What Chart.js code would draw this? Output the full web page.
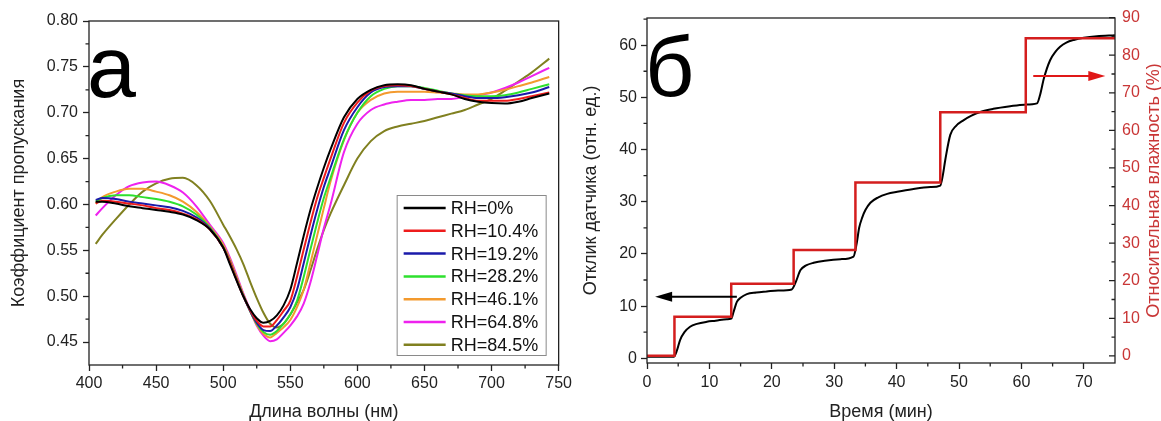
<!DOCTYPE html>
<html>
<head>
<meta charset="utf-8">
<script src="https://cdn.jsdelivr.net/npm/chart.js@4.4.1/dist/chart.umd.min.js"></script>
<style>
  html, body { margin: 0; padding: 0; background: #fff; }
  #wrap { position: relative; width: 1161px; height: 421px; overflow: hidden; }
  #chartA { position: absolute; left: 0; top: 0; }
  #chartB { position: absolute; left: 575px; top: 0; }
</style>
</head>
<body>
<div id="wrap">
  <canvas id="chartA" width="575" height="421"></canvas>
  <canvas id="chartB" width="586" height="421"></canvas>
</div>
<script>
// ---- panel а : transmission spectra at different RH
const wavelengths = [405, 410, 420, 430, 440, 450, 460, 470, 480, 490, 500, 505, 510, 515, 520, 525, 530, 535, 540, 545, 550, 555, 560, 565, 570, 575, 580, 590, 600, 610, 620, 630, 640, 650, 660, 670, 680, 690, 700, 710, 720, 730, 743];
const rhLabels = ['RH=0%', 'RH=10.4%', 'RH=19.2%', 'RH=28.2%', 'RH=46.1%', 'RH=64.8%', 'RH=84.5%'];
const rh0  = [0.603, 0.603, 0.601, 0.598, 0.596, 0.594, 0.592, 0.589, 0.583, 0.573, 0.553, 0.535, 0.517, 0.500, 0.486, 0.476, 0.471, 0.473, 0.479, 0.490, 0.507, 0.536, 0.566, 0.594, 0.618, 0.640, 0.660, 0.695, 0.715, 0.725, 0.730, 0.731, 0.730, 0.726, 0.723, 0.720, 0.715, 0.712, 0.7105, 0.710, 0.712, 0.716, 0.721];
const rh10 = [0.601, 0.604, 0.603, 0.601, 0.599, 0.596, 0.594, 0.590, 0.584, 0.573, 0.553, 0.537, 0.518, 0.500, 0.485, 0.473, 0.467, 0.467, 0.474, 0.484, 0.495, 0.521, 0.551, 0.580, 0.607, 0.629, 0.650, 0.689, 0.711, 0.724, 0.729, 0.730, 0.729, 0.726, 0.723, 0.720, 0.716, 0.713, 0.713, 0.713, 0.715, 0.718, 0.722];
const rh19 = [0.605, 0.607, 0.606, 0.603, 0.601, 0.599, 0.597, 0.593, 0.586, 0.574, 0.553, 0.537, 0.518, 0.500, 0.484, 0.471, 0.463, 0.462, 0.468, 0.477, 0.488, 0.507, 0.536, 0.566, 0.594, 0.619, 0.640, 0.681, 0.706, 0.722, 0.728, 0.729, 0.729, 0.726, 0.723, 0.721, 0.718, 0.716, 0.716, 0.717, 0.719, 0.722, 0.728];
const rh28 = [0.603, 0.607, 0.610, 0.610, 0.608, 0.606, 0.603, 0.598, 0.589, 0.575, 0.554, 0.538, 0.519, 0.501, 0.484, 0.470, 0.461, 0.458, 0.462, 0.470, 0.480, 0.495, 0.521, 0.551, 0.580, 0.607, 0.629, 0.671, 0.700, 0.718, 0.726, 0.729, 0.729, 0.727, 0.724, 0.721, 0.719, 0.718, 0.718, 0.719, 0.722, 0.726, 0.731];
const rh46 = [0.601, 0.608, 0.614, 0.617, 0.617, 0.614, 0.610, 0.603, 0.592, 0.576, 0.556, 0.540, 0.521, 0.502, 0.484, 0.469, 0.459, 0.455, 0.460, 0.466, 0.474, 0.488, 0.507, 0.536, 0.566, 0.596, 0.625, 0.670, 0.700, 0.714, 0.721, 0.723, 0.723, 0.723, 0.722, 0.721, 0.720, 0.720, 0.722, 0.725, 0.729, 0.733, 0.739];
const rh65 = [0.588, 0.596, 0.610, 0.620, 0.624, 0.625, 0.621, 0.613, 0.598, 0.578, 0.558, 0.542, 0.523, 0.503, 0.485, 0.468, 0.457, 0.451, 0.453, 0.460, 0.468, 0.478, 0.492, 0.515, 0.544, 0.574, 0.600, 0.657, 0.688, 0.703, 0.709, 0.712, 0.714, 0.714, 0.715, 0.715, 0.717, 0.719, 0.722, 0.727, 0.733, 0.740, 0.749];
const rh85 = [0.557, 0.567, 0.584, 0.600, 0.614, 0.623, 0.628, 0.629, 0.621, 0.604, 0.578, 0.565, 0.551, 0.535, 0.516, 0.498, 0.482, 0.470, 0.466, 0.470, 0.480, 0.493, 0.507, 0.528, 0.551, 0.572, 0.590, 0.621, 0.650, 0.669, 0.680, 0.685, 0.688, 0.691, 0.695, 0.699, 0.703, 0.709, 0.715, 0.724, 0.734, 0.744, 0.759];
const rhSeries = [rh0, rh10, rh19, rh28, rh46, rh65, rh85];

const aXTicks = [400, 450, 500, 550, 600, 650, 700, 750];
const aXMinor = [425, 475, 525, 575, 625, 675, 725];
const aYTicks = [0.45, 0.50, 0.55, 0.60, 0.65, 0.70, 0.75, 0.80];
const aYMinor = [0.475, 0.525, 0.575, 0.625, 0.675, 0.725, 0.775];

// ---- panel б : sensor response and humidity steps vs time
const respTime  = [0, 4.3, 4.8, 5.3, 6.0, 6.9, 8.0, 9.6, 11.0, 12.8, 13.5, 13.9, 14.4, 15.0, 16.0, 17.5, 19.2, 21.0, 23.2, 23.8, 24.6, 25.5, 26.7, 28.5, 31.0, 33.1, 33.6, 34.0, 34.5, 35.0, 35.8, 37.0, 38.5, 40.1, 42.5, 45.4, 47.0, 47.4, 47.8, 48.6, 49.5, 50.7, 52.0, 53.4, 55.5, 58.2, 60.5, 62.5, 63.0, 63.6, 64.6, 65.5, 66.2, 67.2, 68.4, 70.0, 72.1, 75.0];
const respValue = [0.3, 0.3, 1.5, 3.5, 5.0, 6.05, 6.6, 7.0, 7.2, 7.5, 7.6, 9.0, 10.8, 11.6, 12.3, 12.6, 12.8, 13.0, 13.2, 14.5, 16.9, 17.8, 18.3, 18.7, 19.0, 19.5, 22.0, 25.0, 27.0, 28.4, 29.8, 30.8, 31.5, 31.9, 32.4, 32.8, 33.1, 35.0, 38.0, 42.8, 44.5, 45.6, 46.5, 47.2, 47.8, 48.3, 48.6, 48.85, 50.5, 53.6, 57.1, 58.8, 59.7, 60.5, 61.0, 61.4, 61.7, 61.9];
const humTime  = [0, 4.4, 13.5, 23.5, 33.4, 47.0, 60.7, 75];
const humValue = [0, 10.4, 19.2, 28.2, 46.1, 64.8, 84.5, 84.5];

const bXTicks  = [0, 10, 20, 30, 40, 50, 60, 70];
const bXMinor  = [5, 15, 25, 35, 45, 55, 65];
const bYLTicks = [0, 10, 20, 30, 40, 50, 60];
const bYLMinor = [5, 15, 25, 35, 45, 55, 65];
const bYRTicks = [0, 10, 20, 30, 40, 50, 60, 70, 80, 90];
const bYRMinor = [5, 15, 25, 35, 45, 55, 65, 75, 85];

// arrows pointing to the axis each curve belongs to (data units)
const arrowResp = { from: [14.4, 11.8], to: [1.3, 11.8] };
const arrowHum  = { from: [61.9, 74.5], to: [73.45, 74.5] };

const FONT = '"Liberation Sans", Arial, sans-serif';
const axisColor = '#222';
const rhColors = ['#000000', '#ee1c1c', '#1a1aaa', '#2ee02e', '#f39a2e', '#ee22ee', '#808020'];
const stepRed = '#d41e1e';
const rightRed = '#c93636';

Chart.defaults.font.family = FONT;
Chart.defaults.color = axisColor;

function fixTicks(values) {
  return s => { s.ticks = values.map(v => ({ value: v })); };
}

function drawTicks(chart, id, values, len) {
  const { ctx, chartArea: a } = chart;
  const s = chart.scales[id];
  ctx.beginPath();
  values.forEach(v => {
    const p = s.getPixelForValue(v);
    if (s.isHorizontal()) { ctx.moveTo(p, a.bottom); ctx.lineTo(p, a.bottom + len); }
    else if (s.position === 'left') { ctx.moveTo(a.left, p); ctx.lineTo(a.left - len, p); }
    else { ctx.moveTo(a.right, p); ctx.lineTo(a.right + len, p); }
  });
  ctx.stroke();
}

function drawArrow(ctx, sx, sy, arr, color) {
  const x0 = sx.getPixelForValue(arr.from[0]), y0 = sy.getPixelForValue(arr.from[1]);
  const x1 = sx.getPixelForValue(arr.to[0]), y1 = sy.getPixelForValue(arr.to[1]);
  const dir = Math.sign(x1 - x0);
  ctx.strokeStyle = color; ctx.fillStyle = color; ctx.lineWidth = 2;
  ctx.beginPath(); ctx.moveTo(x0, y0); ctx.lineTo(x1 - dir * 15, y1); ctx.stroke();
  ctx.beginPath();
  ctx.moveTo(x1, y1);
  ctx.lineTo(x1 - dir * 17, y1 - 5);
  ctx.lineTo(x1 - dir * 17, y1 + 5);
  ctx.closePath(); ctx.fill();
}

const panelA = {
  id: 'panelA',
  afterDraw(chart) {
    const { ctx, chartArea: a } = chart;
    ctx.save();
    ctx.strokeStyle = axisColor; ctx.lineWidth = 1.3;
    ctx.strokeRect(a.left, a.top, a.right - a.left, a.bottom - a.top);
    drawTicks(chart, 'x', aXMinor, 3.5);
    drawTicks(chart, 'y', aYMinor, 3.5);

    // legend box
    const bx = a.right - 162, by = a.bottom - 170;
    ctx.lineWidth = 1; ctx.strokeStyle = '#8a8a8a';
    ctx.strokeRect(bx + 0.5, by + 0.5, 149, 160);
    ctx.font = '18px ' + FONT; ctx.textBaseline = 'middle'; ctx.textAlign = 'left';
    chart.data.datasets.forEach((d, i) => {
      const yy = by + 13 + i * 22.8;
      ctx.strokeStyle = d.borderColor; ctx.lineWidth = 2.5;
      ctx.beginPath(); ctx.moveTo(bx + 7, yy); ctx.lineTo(bx + 49, yy); ctx.stroke();
      ctx.fillStyle = '#111';
      ctx.fillText(d.label, bx + 54, yy + 1);
    });

    ctx.font = '88px ' + FONT; ctx.textBaseline = 'alphabetic'; ctx.fillStyle = '#000';
    ctx.fillText('а', a.left - 2, 97);
    ctx.restore();
  }
};

const panelB = {
  id: 'panelB',
  afterDraw(chart) {
    const { ctx, chartArea: a, scales } = chart;
    ctx.save();
    ctx.strokeStyle = axisColor; ctx.lineWidth = 1.3;
    ctx.strokeRect(a.left, a.top, a.right - a.left, a.bottom - a.top);
    drawTicks(chart, 'x', bXMinor, 3.5);
    drawTicks(chart, 'y', bYLMinor, 3.5);
    drawTicks(chart, 'y1', bYRTicks, -6);
    drawTicks(chart, 'y1', bYRMinor, -3.5);

    drawArrow(ctx, scales.x, scales.y, arrowResp, '#000');
    drawArrow(ctx, scales.x, scales.y1, arrowHum, '#e01818');

    // right axis title, reading bottom to top like the left one
    ctx.save();
    ctx.translate(a.right + 39, (a.top + a.bottom) / 2);
    ctx.rotate(-Math.PI / 2);
    ctx.textAlign = 'center'; ctx.textBaseline = 'middle';
    ctx.fillStyle = rightRed; ctx.font = '18px ' + FONT;
    ctx.fillText('Относительная влажность (%)', 0, 0);
    ctx.restore();

    ctx.font = '86px ' + FONT; ctx.textBaseline = 'alphabetic'; ctx.textAlign = 'left'; ctx.fillStyle = '#000';
    ctx.fillText('б', a.left - 2, 96);
    ctx.restore();
  }
};

const tickFont = { size: 16 };
const titleFont = { size: 18, lineHeight: 1 };

new Chart(document.getElementById('chartA'), {
  type: 'line',
  data: {
    datasets: rhSeries.map((vals, i) => ({
      label: rhLabels[i],
      data: wavelengths.map((w, j) => ({ x: w, y: vals[j] })),
      borderColor: rhColors[i],
      borderWidth: 2,
      pointRadius: 0,
      cubicInterpolationMode: 'monotone',
      fill: false
    }))
  },
  options: {
    responsive: false,
    animation: false,
    events: [],
    layout: { padding: { top: 21, right: 15, bottom: 0, left: 0 } },
    plugins: { legend: { display: false }, tooltip: { enabled: false } },
    scales: {
      x: {
        type: 'linear', min: 400, max: 750,
        afterBuildTicks: fixTicks(aXTicks),
        afterFit: s => { s.height = 56; },
        border: { display: false },
        grid: { drawOnChartArea: false, tickLength: 6, tickColor: axisColor, tickWidth: 1.3 },
        ticks: { color: axisColor, font: tickFont, padding: 3, maxRotation: 0, autoSkip: false, callback: v => String(v) },
        title: { display: true, text: 'Длина волны (нм)', color: axisColor, font: titleFont, padding: 0 }
      },
      y: {
        type: 'linear', min: 0.425, max: 0.80,
        afterBuildTicks: fixTicks(aYTicks),
        afterFit: s => { s.width = 89; },
        border: { display: false },
        grid: { drawOnChartArea: false, tickLength: 6, tickColor: axisColor, tickWidth: 1.3 },
        ticks: { color: axisColor, font: tickFont, padding: 5, autoSkip: false, callback: v => v.toFixed(2) },
        title: { display: true, text: 'Коэффициент пропускания', color: axisColor, font: titleFont, padding: { top: 10, bottom: 0 } }
      }
    }
  },
  plugins: [panelA]
});

new Chart(document.getElementById('chartB'), {
  type: 'line',
  data: {
    datasets: [
      {
        label: 'Относительная влажность',
        yAxisID: 'y1',
        data: humTime.map((t, i) => ({ x: t, y: humValue[i] })),
        borderColor: stepRed,
        borderWidth: 2.5,
        pointRadius: 0,
        stepped: 'before',
        fill: false
      },
      {
        label: 'Отклик датчика',
        yAxisID: 'y',
        data: respTime.map((t, i) => ({ x: t, y: respValue[i] })),
        borderColor: '#000',
        borderWidth: 2,
        pointRadius: 0,
        cubicInterpolationMode: 'monotone',
        fill: false
      }
    ]
  },
  options: {
    responsive: false,
    animation: false,
    events: [],
    layout: { padding: { top: 18, right: 0, bottom: 0, left: 0 } },
    plugins: { legend: { display: false }, tooltip: { enabled: false } },
    scales: {
      x: {
        type: 'linear', min: 0, max: 75,
        afterBuildTicks: fixTicks(bXTicks),
        afterFit: s => { s.height = 58; },
        border: { display: false },
        grid: { drawOnChartArea: false, tickLength: 6, tickColor: axisColor, tickWidth: 1.3 },
        ticks: { color: axisColor, font: tickFont, padding: 4, maxRotation: 0, autoSkip: false, callback: v => String(v) },
        title: { display: true, text: 'Время (мин)', color: axisColor, font: titleFont, padding: 0 }
      },
      y: {
        type: 'linear', position: 'left', min: -0.9, max: 65.2,
        afterBuildTicks: fixTicks(bYLTicks),
        afterFit: s => { s.width = 72; },
        border: { display: false },
        grid: { drawOnChartArea: false, tickLength: 6, tickColor: axisColor, tickWidth: 1.3 },
        ticks: { color: axisColor, font: tickFont, padding: 4, autoSkip: false, callback: v => String(v) },
        title: { display: true, text: 'Отклик датчика (отн. ед.)', color: axisColor, font: titleFont, padding: { top: 7, bottom: 0 } }
      },
      y1: {
        type: 'linear', position: 'right', min: -1.9, max: 89.9,
        afterBuildTicks: fixTicks(bYRTicks),
        afterFit: s => { s.width = 46; },
        border: { display: false },
        grid: { display: false, drawTicks: false },
        ticks: { color: rightRed, font: tickFont, padding: 7, autoSkip: false, callback: v => String(v) },
        title: { display: false }
      }
    }
  },
  plugins: [panelB]
});
</script>
</body>
</html>
